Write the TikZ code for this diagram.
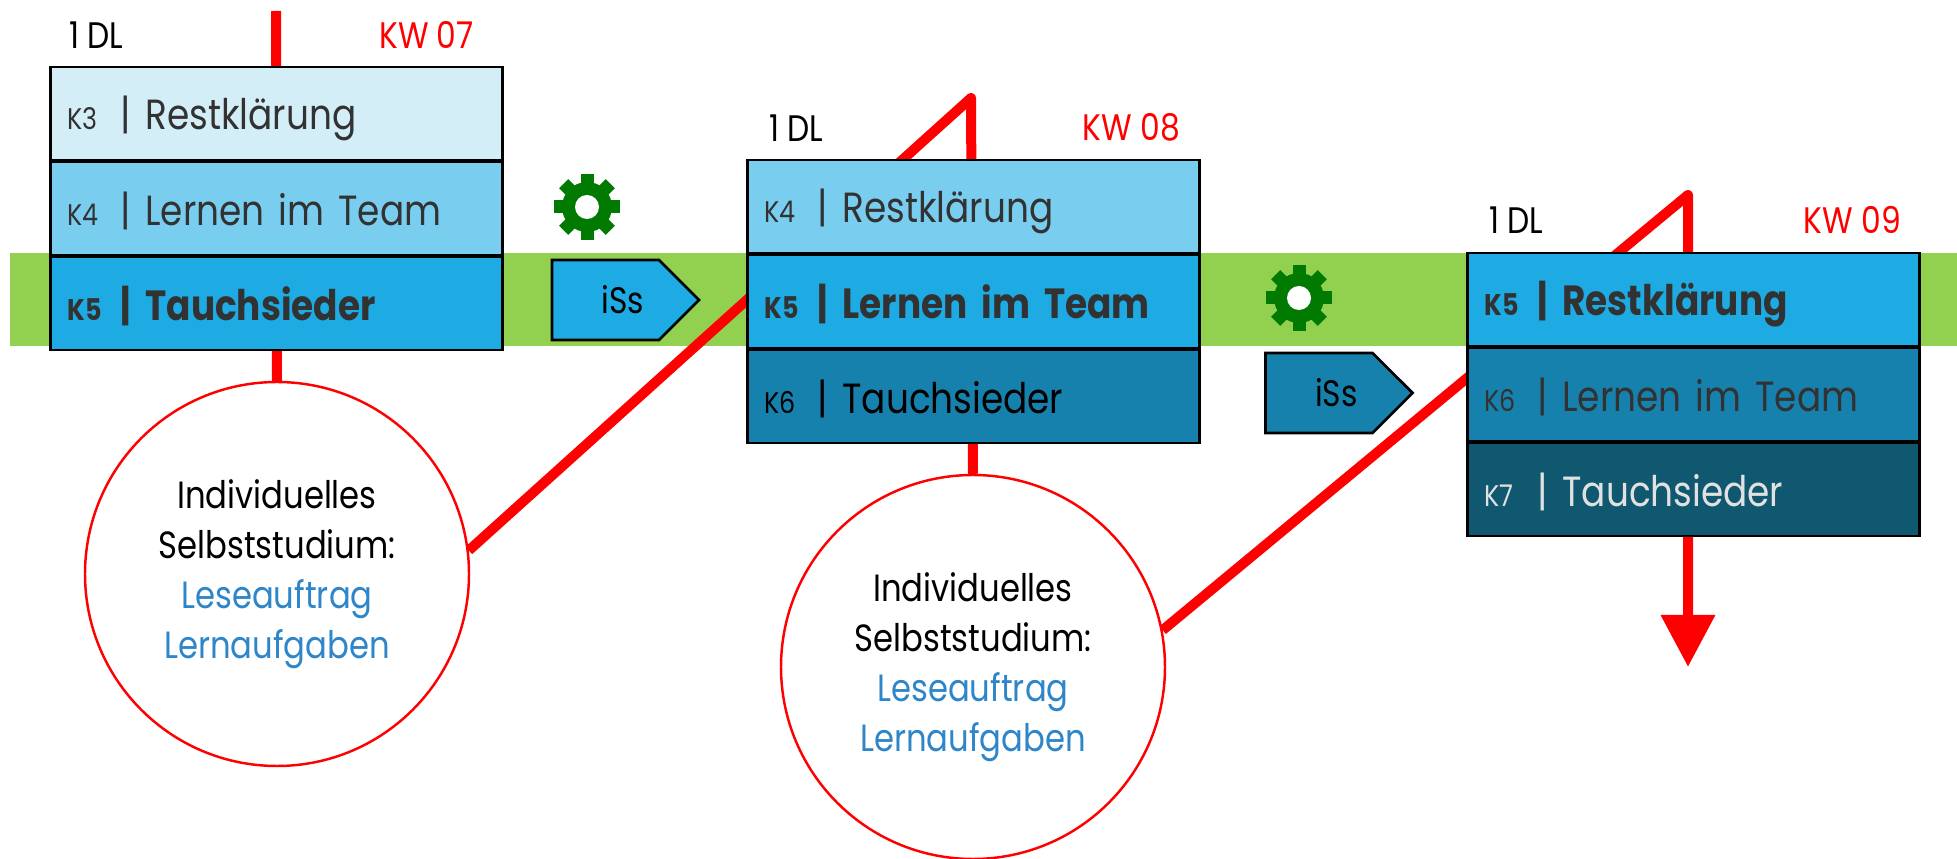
\documentclass[tikz,border=0pt]{standalone}
\usepackage{fontspec}
\setmainfont[FakeStretch=0.85]{Poppins}
\usetikzlibrary{positioning,shapes.symbols,arrows.meta}

\definecolor{banda}{RGB}{146,208,80}
\definecolor{verde}{RGB}{0,122,0}
\definecolor{c1}{RGB}{212,238,248}
\definecolor{c2}{RGB}{121,206,240}
\definecolor{c3}{RGB}{30,170,226}
\definecolor{c4}{RGB}{23,129,173}
\definecolor{c5}{RGB}{15,88,112}
\definecolor{gris}{RGB}{50,50,50}
\definecolor{claro}{RGB}{225,225,225}
\definecolor{azul}{RGB}{46,134,200}

\pgfdeclarelayer{fondo}
\pgfdeclarelayer{lineas}
\pgfsetlayers{fondo,lineas,main}

\newcommand{\fila}[2]{\makebox[.53cm][l]{\fontsize{8.5}{9}\selectfont #1}\makebox[.25cm][l]{|}#2}

\begin{document}
\begin{tikzpicture}[x=0.1mm, y=0.1mm]
\useasboundingbox (0,0) rectangle (1957,859);

% Banda
\begin{pgfonlayer}{fondo}
	\fill[banda] (10,513) rectangle (1957,606);
\end{pgfonlayer}

% Bloques
\begin{scope}[
		every node/.style = {draw = black, line width = .6pt,
		minimum width = 4.52cm, minimum height = .93cm,
		text width = 4.18cm, inner xsep = .17cm, align = left,
		text height = .38cm, text depth = .05cm, text = gris,
		font = \fontsize{12}{14}\selectfont}]
	\node[fill = c1] (A1) at (276.5,745.5) {\fila{K3}{Restklärung}};
	\node[fill = c2, below = 0pt of A1] (A2) {\fila{K4}{Lernen im Team}};
	\node[fill = c3, below = 0pt of A2] (A3) {\bfseries\fila{K5}{Tauchsieder}};
	\node[fill = c2] (B1) at (973.5,652.5) {\fila{K4}{Restklärung}};
	\node[fill = c3, below = 0pt of B1] (B2) {\bfseries\fila{K5}{Lernen im Team}};
	\node[fill = c4, text = black, below = 0pt of B2] (B3) {\fila{K6}{Tauchsieder}};
	\node[fill = c3] (D1) at (1693.5,559.5) {\bfseries\fila{K5}{Restklärung}};
	\node[fill = c4, below = 0pt of D1] (D2) {\fila{K6}{Lernen im Team}};
	\node[fill = c5, text = claro, below = 0pt of D2] (D3) {\fila{K7}{Tauchsieder}};
\end{scope}

% Etiquetas
\begin{scope}[
		every node/.style = {inner sep = 0,
		font = \fontsize{10.5}{12}\selectfont}]
	\node[above right = .17cm and .19cm of A1.north west] (LA) {1 DL};
	\node[above right = .17cm and .22cm of B1.north west] (LB) {1 DL};
	\node[above right = .18cm and .22cm of D1.north west] (LD) {1 DL};
	\node[text = red, above left = .17cm and .29cm of A1.north east] (KA) {KW 07};
	\node[text = red, above left = .17cm and .20cm of B1.north east] (KB) {KW 08};
	\node[text = red, above left = .18cm and .19cm of D1.north east] (KD) {KW 09};
\end{scope}

% Circulos
\begin{scope}[
		every node/.style = {circle, draw = red, line width = .7pt,
		fill = white, minimum size = 3.84cm, inner sep = 0,
		align = center, font = \fontsize{10.8}{14.2}\selectfont}]
	\node (C1) at (277,285) {Individuelles\\Selbststudium:\\
		\textcolor{azul}{Leseauftrag}\\\textcolor{azul}{Lernaufgaben}};
	\node (C2) at (973,192) {Individuelles\\Selbststudium:\\
		\textcolor{azul}{Leseauftrag}\\\textcolor{azul}{Lernaufgaben}};
\end{scope}

% iSs
\begin{scope}[
		every node/.style = {signal, signal to = east,
		signal pointer angle = 90, draw = black, line width = .8pt,
		minimum width = 1.47cm, minimum height = .8cm, inner sep = 0,
		font = \fontsize{10.5}{12}\selectfont}]
	\node[fill = c3] (S1) at (605.5,559) {\hspace*{.35cm}iSs};
	\node[fill = c4] (S2) at (1319,466) {\hspace*{.35cm}iSs};
\end{scope}

% Engranajes
\begin{scope}[
		every node/.style = {circle, fill = verde,
		minimum size = .5cm, inner sep = 0}]
	\node (G1) at (587,652) {};
	\node (G2) at (1299,561) {};
\end{scope}
\foreach \g in {G1,G2}{
	\foreach \a in {0,45,...,315}
		\draw[verde, line width = 1.3mm] (\g.center) -- ++(\a:.33cm);
	\fill[white] (\g.center) circle (.12cm);
}

% Lineas
\begin{pgfonlayer}{lineas}
	\coordinate (T1) at (276,848);
	\coordinate (P2) at (971,761);
	\coordinate (P3) at (1688,664);
	\coordinate (E) at (1688,192);
	\draw[red, line width = 1mm] (T1) -- (C1.north);
	\draw[red, line width = 1mm, line join = round] (C1.7) -- (P2) -- (C2.north);
	\draw[red, line width = 1mm, line join = round,
		-{Triangle[width = .52cm, length = .52cm]}] (C2.11) -- (P3) -- (E);
\end{pgfonlayer}
\end{tikzpicture}
\end{document}
